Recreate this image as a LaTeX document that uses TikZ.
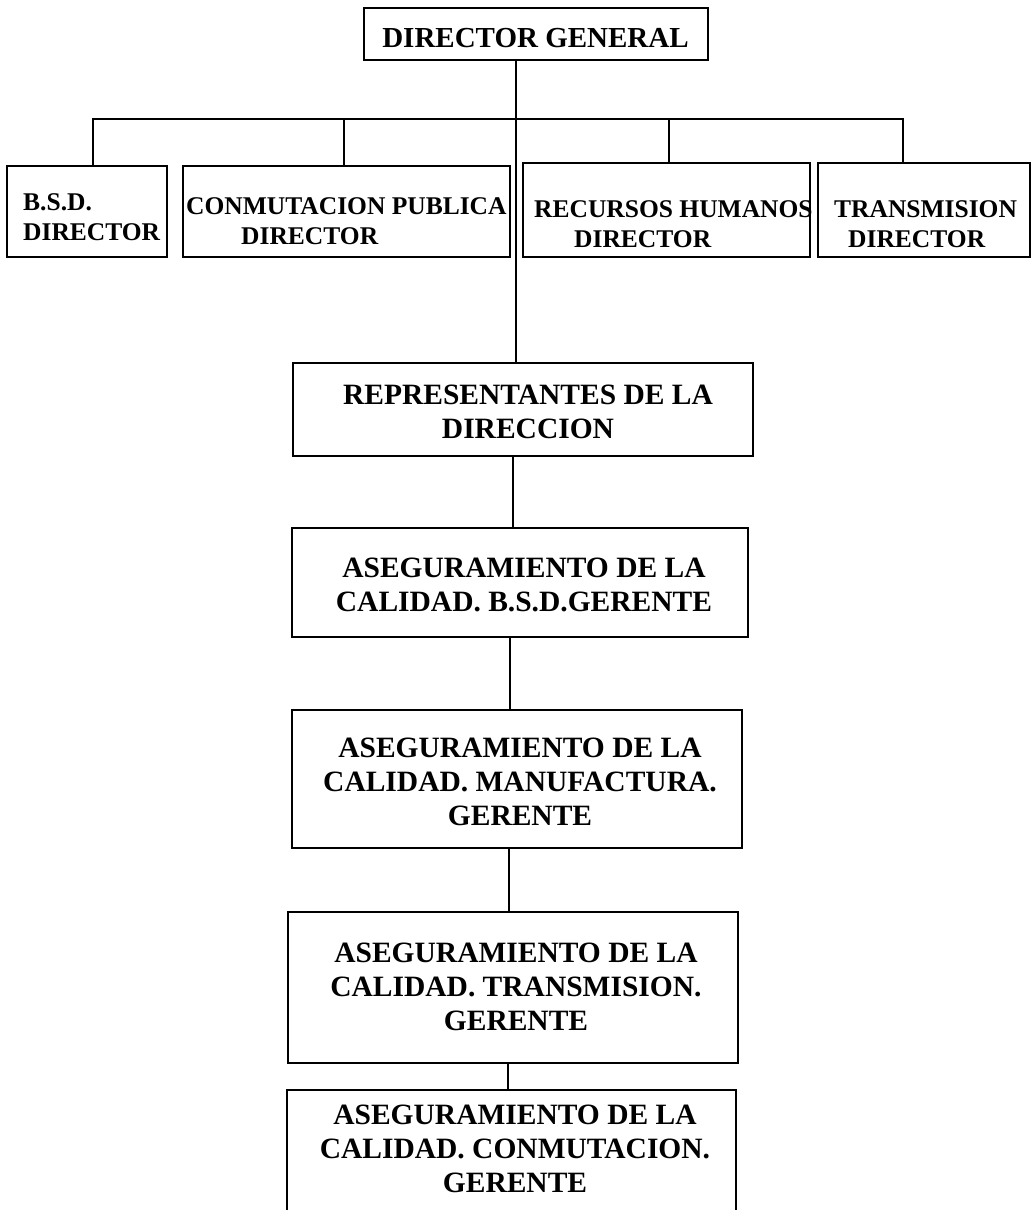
\documentclass[tikz,border=0pt]{standalone}
\usepackage{fontspec}
\setmainfont{Liberation Serif}
\begin{document}
\begin{tikzpicture}[x=1pt,y=-1pt,
  box/.style={draw,line width=1.5pt,rectangle,inner sep=0pt,outer sep=0pt},
  conn/.style={line width=1.5pt},
  bigtxt/.style={inner sep=0pt,align=center,font=\fontsize{29.5}{34}\selectfont\bfseries},
  toptxt/.style={inner sep=0pt,align=left,anchor=north west,font=\fontsize{25.5}{30.5}\selectfont\bfseries}]
\path[use as bounding box] (0,0) rectangle (1031,1210);
\clip (0,0) rectangle (1031,1210);
\fill[white] (0,0) rectangle (1031,1210);
% boxes
\node[box,minimum width=344pt,minimum height=52pt] (dg) at (536,34) {};
\node[box,minimum width=160pt,minimum height=91pt] (bsd) at (87,211.5) {};
\node[box,minimum width=327pt,minimum height=91pt] (cpub) at (346.5,211.5) {};
\node[box,minimum width=287pt,minimum height=94pt] (rrhh) at (666.5,210) {};
\node[box,minimum width=212pt,minimum height=94pt] (trans) at (924,210) {};
\node[box,minimum width=460pt,minimum height=93pt] (rep) at (523,409.5) {};
\node[box,minimum width=456pt,minimum height=109pt] (abs) at (520,582.5) {};
\node[box,minimum width=450pt,minimum height=138pt] (aman) at (517,779) {};
\node[box,minimum width=450pt,minimum height=151pt] (atra) at (513,987.5) {};
\node[box,minimum width=449pt,minimum height=140pt] (acon) at (511.5,1160) {};
% texts
\node[inner sep=0pt,anchor=north,font=\fontsize{29}{34}\selectfont\bfseries] (dgt) at (535.5,28) {DIRECTOR GENERAL};
\node[toptxt] (bsdt) at (23,193) {B.S.D.\\DIRECTOR};
\node[toptxt] (cpubt) at (186,197) {CONMUTACION PUBLICA\\\hspace*{55pt}DIRECTOR};
\node[toptxt] (rrhht) at (534,200) {RECURSOS HUMANOS\\\hspace*{40pt}DIRECTOR};
\node[toptxt] (transt) at (834,200) {TRANSMISION\\\hspace*{14pt}DIRECTOR};
\node[bigtxt,anchor=north] (rept) at (528,385) {REPRESENTANTES DE LA\\DIRECCION};
\node[bigtxt,anchor=north] (abst) at (524,558) {ASEGURAMIENTO DE LA\\CALIDAD. B.S.D.GERENTE};
\node[bigtxt,anchor=north] (amant) at (520,738) {ASEGURAMIENTO DE LA\\CALIDAD. MANUFACTURA.\\GERENTE};
\node[bigtxt,anchor=north] (atrat) at (516,943) {ASEGURAMIENTO DE LA\\CALIDAD. TRANSMISION.\\GERENTE};
\node[bigtxt,anchor=north] (acont) at (515,1105) {ASEGURAMIENTO DE LA\\CALIDAD. CONMUTACION.\\GERENTE};
% connector x positions
\coordinate (tk) at (516,0);
\coordinate (bus) at (516,119);
\coordinate (d1) at (93,0);
\coordinate (d2) at (344,0);
\coordinate (d3) at (669,0);
\coordinate (d4) at (903,0);
\coordinate (c1) at (513,0);
\coordinate (c2) at (510,0);
\coordinate (c3) at (509,0);
\coordinate (c4) at (508,0);
% connectors
\draw[conn] (tk |- dg.south) -- (tk |- rep.north);
\draw[conn] (d1 |- bsd.north) -- (d1 |- bus) -- (d4 |- bus) -- (d4 |- trans.north);
\draw[conn] (d2 |- bus) -- (d2 |- cpub.north);
\draw[conn] (d3 |- bus) -- (d3 |- rrhh.north);
\draw[conn] (c1 |- rep.south) -- (c1 |- abs.north);
\draw[conn] (c2 |- abs.south) -- (c2 |- aman.north);
\draw[conn] (c3 |- aman.south) -- (c3 |- atra.north);
\draw[conn] (c4 |- atra.south) -- (c4 |- acon.north);
\end{tikzpicture}
\end{document}
